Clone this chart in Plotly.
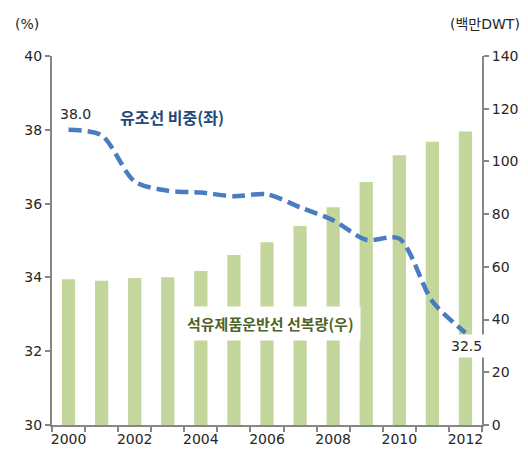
import plotly.graph_objects as go

# ── Data ───────────────────────────────────────────────────────────────
years = list(range(2000, 2013))
tick_years = [2000, 2002, 2004, 2006, 2008, 2010, 2012]

# 석유제품운반선 선복량 (백만DWT, right axis)
fleet_dwt = [55.3, 54.7, 55.8, 56.1, 58.4, 64.5, 69.3, 75.5, 82.6, 92.2, 102.3, 107.5, 111.4]
# 유조선 비중 (%, left axis)
tanker_share = [38.0, 37.85, 36.6, 36.35, 36.3, 36.2, 36.25, 35.9, 35.55, 35.02, 35.05, 33.35, 32.5]

BAR = '#c3d69b'
LINE = '#4a7dbf'
NAVY = '#1f497d'
OLIVE = '#4f6228'
AXIS = '#868686'
TEXT = '#262626'
FONT = 'DejaVu Sans, Noto Sans CJK KR, sans-serif'
KFONT = 'Noto Sans CJK KR, sans-serif'

fig = go.Figure()

# bars live on the primary axis (drawn first), line on the overlaying one
fig.add_trace(go.Bar(
    x=years, y=fleet_dwt, width=0.4,
    marker=dict(color=BAR, line=dict(width=0)),
    yaxis='y', showlegend=False,
))

fig.add_trace(go.Scatter(
    x=years, y=tanker_share, mode='lines',
    line=dict(color=LINE, width=4.5, dash='13px,6px', shape='spline', smoothing=0.8),
    yaxis='y2', showlegend=False,
))

# page body has an 8px margin, so the figure is 8px smaller than the window
fig.update_layout(
    width=520, height=448,
    margin=dict(l=44, r=46, t=48, b=31),
    plot_bgcolor='white', paper_bgcolor='white',
    font=dict(family=FONT, size=14, color=TEXT),
    xaxis=dict(
        range=[1999.5, 2012.5], tickvals=tick_years, ticktext=[str(y) for y in tick_years],
        ticks='', showgrid=False, zeroline=False, automargin=False,
        showline=True, linecolor=AXIS, linewidth=2,
        minor=dict(tickvals=[y - 0.5 for y in years] + [years[-1] + 0.5],
                   ticks='outside', ticklen=5, tickwidth=2, tickcolor=AXIS, showgrid=False),
    ),
    yaxis=dict(
        side='right', range=[0, 140], dtick=20, showgrid=False, zeroline=False,
        automargin=False, showline=True, linecolor=AXIS, linewidth=2,
        ticks='outside', ticklen=5, tickwidth=2, tickcolor=AXIS,
    ),
    yaxis2=dict(
        overlaying='y', side='left', range=[30, 40], dtick=2, showgrid=False, zeroline=False,
        automargin=False, showline=True, linecolor=AXIS, linewidth=2,
        ticks='outside', ticklen=5, tickwidth=2, tickcolor=AXIS,
    ),
    annotations=[
        dict(text='(%)', xref='paper', yref='paper', x=-0.09, y=1.087,
             xanchor='left', yanchor='middle', showarrow=False, font=dict(size=14)),
        dict(text='(백만DWT)', xref='paper', yref='paper', x=1.093, y=1.087,
             xanchor='right', yanchor='middle', showarrow=False, font=dict(family=FONT, size=14)),
        dict(text='<b>유조선 비중(좌)</b>', xref='paper', yref='paper', x=0.153, y=0.835,
             xanchor='left', yanchor='middle', showarrow=False,
             font=dict(family=KFONT, size=16, color=NAVY)),
        dict(text='<b>석유제품운반선 선복량(우)</b>', xref='paper', yref='paper', x=0.508, y=0.274,
             xanchor='center', yanchor='middle', showarrow=False, bgcolor='white', borderpad=6,
             font=dict(family=KFONT, size=15, color=OLIVE)),
        dict(text=f'{tanker_share[0]:.1f}', x=years[0], y=tanker_share[0], xref='x', yref='y2',
             xanchor='center', yanchor='bottom', yshift=6, xshift=7, showarrow=False,
             font=dict(size=14)),
        dict(text=f'{tanker_share[-1]:.1f}', x=years[-1], y=tanker_share[-1], xref='x', yref='y2',
             xanchor='center', yanchor='top', yshift=-1, xshift=1, showarrow=False,
             bgcolor='white', borderpad=3, font=dict(size=14)),
    ],
)

fig.write_html('out.html')
